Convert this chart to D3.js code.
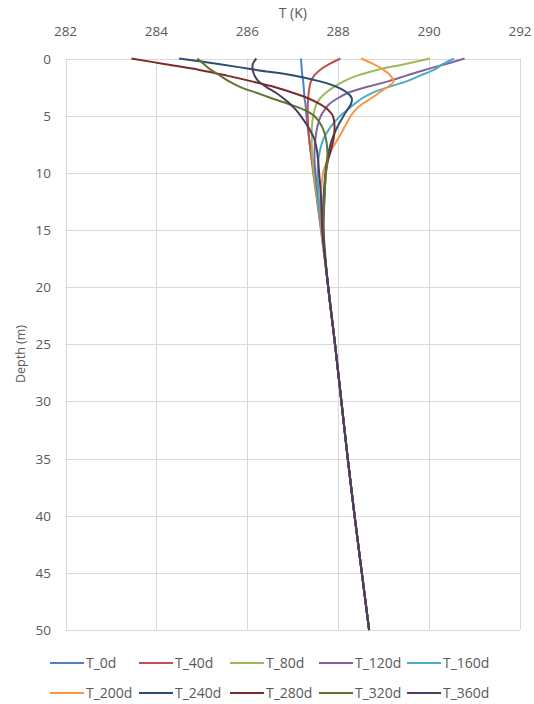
<!DOCTYPE html>
<html>
<head>
<meta charset="utf-8">
<script src="https://cdn.jsdelivr.net/npm/d3@7"></script>
<style>
  body { margin: 0; background: #fff; }
  text { font-family: "Open Sans", sans-serif; fill: #595959; }
</style>
</head>
<body>
<div id="chart"></div>
<script>
var depths = [0, 0.5, 1, 1.5, 2, 2.5, 3, 3.5, 4, 4.5, 5, 6, 7, 8, 9, 10, 12, 15, 20, 25, 30, 35, 40, 45, 50]

// below ~15 m all the profiles lie on top of each other
var deepT = [287.78, 287.93, 288.07, 288.21, 288.36, 288.52, 288.68]

var T_0d   = [287.18, 287.19, 287.2, 287.21, 287.23, 287.24, 287.25, 287.26, 287.28, 287.29, 287.3, 287.33, 287.36, 287.39, 287.43, 287.47, 287.54, 287.64].concat(deepT)
var T_40d  = [288.05, 287.8, 287.6, 287.47, 287.4, 287.37, 287.35, 287.34, 287.33, 287.33, 287.33, 287.34, 287.36, 287.39, 287.42, 287.45, 287.52, 287.62].concat(deepT)
var T_80d  = [290.02, 289.45, 288.85, 288.42, 288.12, 287.9, 287.73, 287.6, 287.52, 287.48, 287.45, 287.42, 287.42, 287.42, 287.44, 287.46, 287.53, 287.63].concat(deepT)
var T_120d = [290.78, 290.35, 289.9, 289.5, 289.1, 288.62, 288.22, 287.98, 287.8, 287.7, 287.62, 287.54, 287.5, 287.48, 287.48, 287.5, 287.55, 287.64].concat(deepT)
var T_160d = [290.55, 290.3, 290.1, 289.8, 289.5, 289.1, 288.75, 288.52, 288.35, 288.2, 288.05, 287.83, 287.68, 287.6, 287.56, 287.55, 287.57, 287.64].concat(deepT)
var T_200d = [288.5, 288.78, 289.0, 289.15, 289.22, 289.08, 288.9, 288.72, 288.52, 288.38, 288.28, 288.14, 288.0, 287.85, 287.75, 287.67, 287.62, 287.64].concat(deepT)
var T_240d = [284.5, 285.4, 286.2, 287.05, 287.6, 287.98, 288.2, 288.3, 288.28, 288.2, 288.12, 287.98, 287.87, 287.8, 287.75, 287.72, 287.68, 287.66].concat(deepT)
var T_280d = [283.45, 284.2, 284.95, 285.55, 286.1, 286.6, 287.0, 287.35, 287.6, 287.78, 287.88, 287.92, 287.9, 287.84, 287.77, 287.73, 287.7, 287.68].concat(deepT)
var T_320d = [284.9, 285.05, 285.2, 285.4, 285.6, 285.85, 286.2, 286.55, 286.92, 287.25, 287.47, 287.65, 287.73, 287.76, 287.76, 287.73, 287.7, 287.67].concat(deepT)
var T_360d = [286.2, 286.12, 286.12, 286.16, 286.25, 286.42, 286.63, 286.8, 286.95, 287.07, 287.17, 287.34, 287.47, 287.53, 287.56, 287.58, 287.62, 287.65].concat(deepT)

var seriesNames = ['T_0d', 'T_40d', 'T_80d', 'T_120d', 'T_160d', 'T_200d', 'T_240d', 'T_280d', 'T_320d', 'T_360d']
var seriesValues = [T_0d, T_40d, T_80d, T_120d, T_160d, T_200d, T_240d, T_280d, T_320d, T_360d]
var colors = ['#4F81BD', '#C0504D', '#9BBB59', '#8064A2', '#4BACC6', '#F79646', '#2C4D75', '#772C2A', '#5F7530', '#4D3B62']

var xTicks = [282, 284, 286, 288, 290, 292]
var yTicks = [0, 5, 10, 15, 20, 25, 30, 35, 40, 45, 50]

var W = 534, H = 704
var margin = {top: 58.5, left: 65.5, right: 14, bottom: 74}

var svg = d3.select('#chart').append('svg')
  .attr('width', W)
  .attr('height', H)

var x = d3.scaleLinear().domain([282, 292]).range([margin.left, W - margin.right])
var y = d3.scaleLinear().domain([0, 50]).range([margin.top, H - margin.bottom])

// grid
svg.append('g').selectAll('line.vx')
  .data(xTicks).enter().append('line')
  .attr('x1', function(d){return Math.round(x(d)) + 0.5}).attr('x2', function(d){return Math.round(x(d)) + 0.5})
  .attr('y1', y(0)).attr('y2', y(50))
  .attr('stroke', '#D9D9D9')
svg.append('g').selectAll('line.hy')
  .data(yTicks).enter().append('line')
  .attr('y1', function(d){return Math.round(y(d)) + 0.5}).attr('y2', function(d){return Math.round(y(d)) + 0.5})
  .attr('x1', x(282)).attr('x2', x(292))
  .attr('stroke', '#D9D9D9')

// tick labels
svg.append('g').selectAll('text')
  .data(xTicks).enter().append('text')
  .attr('x', function(d){return x(d)})
  .attr('y', 36)
  .attr('text-anchor', 'middle')
  .style('font-size', '13.5px')
  .text(function(d){return d})

svg.append('g').selectAll('text')
  .data(yTicks).enter().append('text')
  .attr('x', 51)
  .attr('y', function(d){return y(d) + 5})
  .attr('text-anchor', 'end')
  .style('font-size', '13.5px')
  .text(function(d){return d})

// axis titles
svg.append('text')
  .attr('x', (x(282) + x(292)) / 2)
  .attr('y', 18)
  .attr('text-anchor', 'middle')
  .style('font-size', '14px')
  .text('T (K)')

svg.append('text')
  .attr('transform', 'translate(25,354) rotate(-90)')
  .attr('text-anchor', 'middle')
  .style('font-size', '12.5px')
  .text('Depth (m)')

// profiles
var line = d3.line()
  .x(function(d){return x(d[0])})
  .y(function(d){return y(d[1])})
  .curve(d3.curveCatmullRom.alpha(0.5))

svg.append('g').selectAll('path')
  .data(seriesValues).enter().append('path')
  .attr('d', function(vals){return line(vals.map(function(v, i){return [v, depths[i]]}))})
  .attr('fill', 'none')
  .attr('stroke', function(d, i){return colors[i]})
  .attr('stroke-width', 2)
  .attr('stroke-linejoin', 'round')

// legend, two rows of five
var legX = [50, 139, 230, 319, 407]
var legY = [663, 693]
var leg = svg.append('g').selectAll('g')
  .data(seriesNames).enter().append('g')
  .attr('transform', function(d, i){return 'translate(' + legX[i % 5] + ',' + legY[Math.floor(i / 5)] + ')'})

leg.append('line')
  .attr('x1', 0).attr('x2', 34)
  .attr('stroke', function(d, i){return colors[i]})
  .attr('stroke-width', 2)

leg.append('text')
  .attr('x', 36)
  .attr('y', 5)
  .style('font-size', '14px')
  .text(function(d){return d})
</script>
</body>
</html>
